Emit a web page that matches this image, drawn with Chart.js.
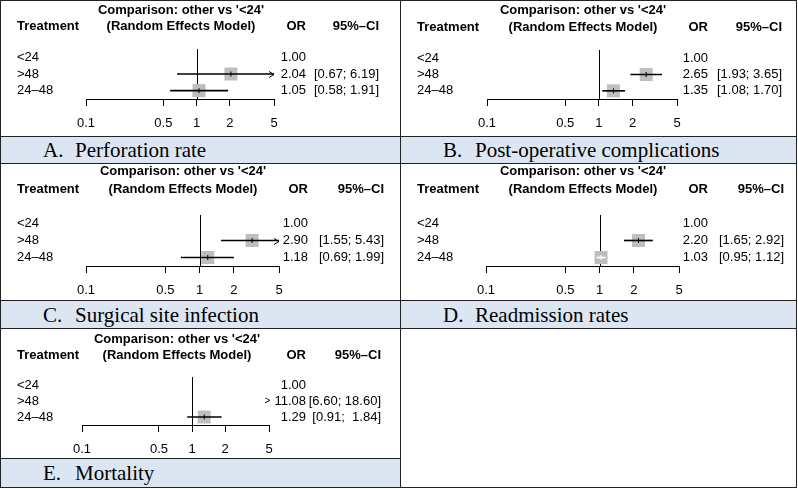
<!DOCTYPE html>
<html>
<head>
<meta charset="utf-8">
<script src="https://cdn.jsdelivr.net/npm/chart.js@4.4.1/dist/chart.umd.min.js"></script>
<style>
  html, body { margin: 0; padding: 0; background: #fff; }
  #page { position: relative; width: 798px; height: 489px; overflow: hidden; }
  #page canvas { position: absolute; }
  .band { position: absolute; background: #dce6f2; font-family: "Liberation Serif", "Times New Roman", serif; font-size: 21px; line-height: 21px; color: #000; }
  .band span { position: absolute; top: 50%; transform: translateY(-50%); white-space: nowrap; }
  .rule { position: absolute; background: #222; z-index: 5; }
</style>
</head>
<body>
<div id="page"></div>
<script>
// 数据
const treatments = ["<24", ">48", "24–48"];
const tickValues = [0.1, 0.5, 1, 2, 5];
const panelLetters = ["A.", "B.", "C.", "D.", "E."];
const panelTitles = ["Perforation rate", "Post-operative complications", "Surgical site infection", "Readmission rates", "Mortality"];

const perforationOR = [1.00, 2.04, 1.05];
const perforationLower = [null, 0.67, 0.58];
const perforationUpper = [null, 6.19, 1.91];

const complicationsOR = [1.00, 2.65, 1.35];
const complicationsLower = [null, 1.93, 1.08];
const complicationsUpper = [null, 3.65, 1.70];

const infectionOR = [1.00, 2.90, 1.18];
const infectionLower = [null, 1.55, 0.69];
const infectionUpper = [null, 5.43, 1.99];

const readmissionOR = [1.00, 2.20, 1.03];
const readmissionLower = [null, 1.65, 0.95];
const readmissionUpper = [null, 2.92, 1.12];

const mortalityOR = [1.00, 11.08, 1.29];
const mortalityLower = [null, 6.60, 0.91];
const mortalityUpper = [null, 18.60, 1.84];

const series = [
    [perforationOR, perforationLower, perforationUpper],
    [complicationsOR, complicationsLower, complicationsUpper],
    [infectionOR, infectionLower, infectionUpper],
    [readmissionOR, readmissionLower, readmissionUpper],
    [mortalityOR, mortalityLower, mortalityUpper]
];

// 版面位置
const cells = [
    { x: 0,   y: 0,   w: 399, h: 136, left: 86, right: 274, top: 49, axisY: 99,  h1: 10, h2: 26, cx: 181, orRight: 306, ciRight: 379 },
    { x: 400, y: 0,   w: 396, h: 136, left: 87, right: 277, top: 50, axisY: 99,  h1: 10, h2: 27, cx: 183, orRight: 308, ciRight: 382 },
    { x: 0,   y: 164, w: 399, h: 136, left: 86, right: 279, top: 51, axisY: 102, h1: 7,  h2: 25, cx: 183, orRight: 308, ciRight: 384 },
    { x: 400, y: 164, w: 396, h: 136, left: 86, right: 279, top: 51, axisY: 102, h1: 7,  h2: 25, cx: 183, orRight: 308, ciRight: 384 },
    { x: 0,   y: 329, w: 399, h: 129, left: 82, right: 269, top: 48, axisY: 96,  h1: 10, h2: 26, cx: 177, orRight: 306, ciRight: 381 }
];
const bands = [
    { x: 1, y: 137, w: 399, h: 26 },
    { x: 401, y: 137, w: 395, h: 26 },
    { x: 1, y: 301, w: 399, h: 27 },
    { x: 401, y: 301, w: 395, h: 27 },
    { x: 1, y: 459, w: 399, h: 28 }
];

const FONT = "'Liberation Sans', Arial, Helvetica, sans-serif";
const BOX = 13;
const page = document.getElementById("page");

function rule(x, y, w, h) {
    const d = document.createElement("div");
    d.className = "rule";
    d.style.cssText = `left:${x}px;top:${y}px;width:${w}px;height:${h}px`;
    page.appendChild(d);
}

const pad = (s, n) => " ".repeat(Math.max(0, n - s.length)) + s;

// 森林图文字、参考线、箭头
const forestPlugin = {
    id: "forest",
    beforeDatasetsDraw(chart, args, opts) {
        const { ctx, chartArea, scales } = chart;
        const x = Math.round(scales.x.getPixelForValue(1)) + 0.5;
        ctx.save();
        ctx.strokeStyle = "#000";
        ctx.lineWidth = 1;
        ctx.beginPath();
        ctx.moveTo(x, chartArea.top);
        ctx.lineTo(x, chartArea.bottom);
        ctx.stroke();
        ctx.restore();
    },
    afterDatasetsDraw(chart, args, opts) {
        const { ctx, chartArea, scales } = chart;
        ctx.save();
        ctx.strokeStyle = "#000";
        ctx.lineWidth = 1;
        opts.lower.forEach((lo, i) => {
            if (lo == null) return;
            const hi = opts.upper[i];
            const y = Math.round(scales.y.getPixelForValue(i)) + 0.5;
            if (hi > scales.x.max && lo < scales.x.max) {
                const xr = chartArea.right;
                ctx.beginPath();
                ctx.moveTo(xr - 5, y - 3);
                ctx.lineTo(xr, y);
                ctx.lineTo(xr - 5, y + 3);
                ctx.stroke();
            }
            if (lo < scales.x.min && hi > scales.x.min) {
                const xl = chartArea.left;
                ctx.beginPath();
                ctx.moveTo(xl + 5, y - 3);
                ctx.lineTo(xl, y);
                ctx.lineTo(xl + 5, y + 3);
                ctx.stroke();
            }
        });
        ctx.restore();
    },
    afterDraw(chart, args, opts) {
        const { ctx, scales } = chart;
        const L = opts.cell;
        ctx.save();
        ctx.fillStyle = "#000";
        ctx.textBaseline = "middle";
        ctx.font = "bold 13px " + FONT;
        ctx.textAlign = "center";
        ctx.fillText("Comparison: other vs '<24'", L.cx, L.h1);
        ctx.fillText("(Random Effects Model)", L.cx, L.h2);
        ctx.textAlign = "left";
        ctx.fillText("Treatment", 17, L.h2);
        ctx.textAlign = "right";
        ctx.fillText("OR", L.orRight, L.h2);
        ctx.fillText("95%–CI", L.ciRight, L.h2);

        ctx.font = "13px " + FONT;
        const loStr = opts.lower.map(v => v == null ? "" : v.toFixed(2));
        const hiStr = opts.upper.map(v => v == null ? "" : v.toFixed(2));
        const loW = Math.max(...loStr.map(s => s.length));
        const hiW = Math.max(...hiStr.map(s => s.length));
        treatments.forEach((t, i) => {
            const y = scales.y.getPixelForValue(i);
            ctx.textAlign = "left";
            ctx.fillText(t, 17, y);
            ctx.textAlign = "right";
            const off = opts.lower[i] != null && opts.lower[i] > scales.x.max;
            if (off) {
                // 超出坐标范围的标记
                const w = ctx.measureText(opts.or[i].toFixed(2)).width;
                ctx.font = "10px " + FONT;
                ctx.fillText(">", L.orRight - w - 4, y);
                ctx.font = "13px " + FONT;
            }
            ctx.fillText(opts.or[i].toFixed(2), L.orRight, y);
            if (opts.lower[i] != null) {
                ctx.fillText(`[${pad(loStr[i], loW)}; ${pad(hiStr[i], hiW)}]`, L.ciRight, y);
            }
        });
        ctx.restore();
    }
};

function drawPanel(k) {
    const L = cells[k];
    const [orVals, lower, upper] = series[k];
    const canvas = document.createElement("canvas");
    canvas.width = L.w;
    canvas.height = L.h;
    canvas.style.left = L.x + "px";
    canvas.style.top = L.y + "px";
    page.appendChild(canvas);

    // 置信区间比方块窄时用白色
    const inside = (ctx) => {
        const i = ctx.dataIndex;
        if (lower[i] == null) return false;
        const xs = ctx.chart.scales.x;
        return xs.getPixelForValue(upper[i]) - xs.getPixelForValue(lower[i]) < BOX;
    };
    const points = treatments.map((t, i) => ({ x: lower[i] == null ? null : orVals[i], y: t }));

    new Chart(canvas, {
        type: "bar",
        data: {
            labels: treatments,
            datasets: [
                {
                    type: "scatter",
                    data: points,
                    pointStyle: "rect",
                    pointRadius: BOX / Math.SQRT2,
                    pointHoverRadius: BOX / Math.SQRT2,
                    backgroundColor: "#bebebe",
                    borderWidth: 0,
                    order: 3,
                    clip: 0
                },
                {
                    type: "bar",
                    indexAxis: "y",
                    data: lower.map((lo, i) => lo == null ? null : [lo, upper[i]]),
                    barThickness: 1,
                    backgroundColor: ctx => inside(ctx) ? "#fff" : "#000",
                    borderWidth: 0,
                    order: 2
                },
                {
                    type: "scatter",
                    data: points,
                    pointStyle: "line",
                    rotation: 90,
                    pointRadius: 2.5,
                    pointHoverRadius: 2.5,
                    borderWidth: 1,
                    borderColor: ctx => inside(ctx) ? "#fff" : "#000",
                    order: 1,
                    clip: 0
                }
            ]
        },
        options: {
            indexAxis: "y",
            responsive: false,
            maintainAspectRatio: false,
            animation: false,
            events: [],
            layout: { padding: { left: L.left, right: L.w - L.right, top: L.top, bottom: 0 } },
            plugins: {
                legend: { display: false },
                tooltip: { enabled: false },
                forest: { cell: L, or: orVals, lower: lower, upper: upper }
            },
            scales: {
                x: {
                    type: "logarithmic",
                    min: 0.1,
                    max: 5,
                    offset: false,
                    bounds: "data",
                    grid: { display: true, drawOnChartArea: false, drawTicks: true, tickLength: 7, color: "#000", lineWidth: 1, offset: false },
                    border: { display: true, color: "#000", width: 1 },
                    ticks: {
                        color: "#000",
                        font: { family: FONT, size: 13 },
                        padding: 10,
                        autoSkip: false,
                        maxRotation: 0,
                        callback: v => String(v)
                    },
                    afterBuildTicks: s => { s.ticks = tickValues.map(v => ({ value: v })); },
                    afterFit: s => { s.height = L.h - L.axisY; }
                },
                y: { type: "category", display: false, offset: true }
            }
        },
        plugins: [forestPlugin]
    });
}

// 标题栏
bands.forEach((b, k) => {
    const d = document.createElement("div");
    d.className = "band";
    d.style.cssText = `left:${b.x}px;top:${b.y}px;width:${b.w}px;height:${b.h}px`;
    d.innerHTML = `<span style="left:42px">${panelLetters[k]}</span><span style="left:74px">${panelTitles[k]}</span>`;
    page.appendChild(d);
});

for (let k = 0; k < cells.length; k++) drawPanel(k);

// 表格边框
[0, 136, 163, 300, 328, 487].forEach(y => rule(0, y, 797, 1));
rule(0, 458, 401, 1);
[0, 400, 796].forEach(x => rule(x, 0, 1, 488));
</script>
</body>
</html>
